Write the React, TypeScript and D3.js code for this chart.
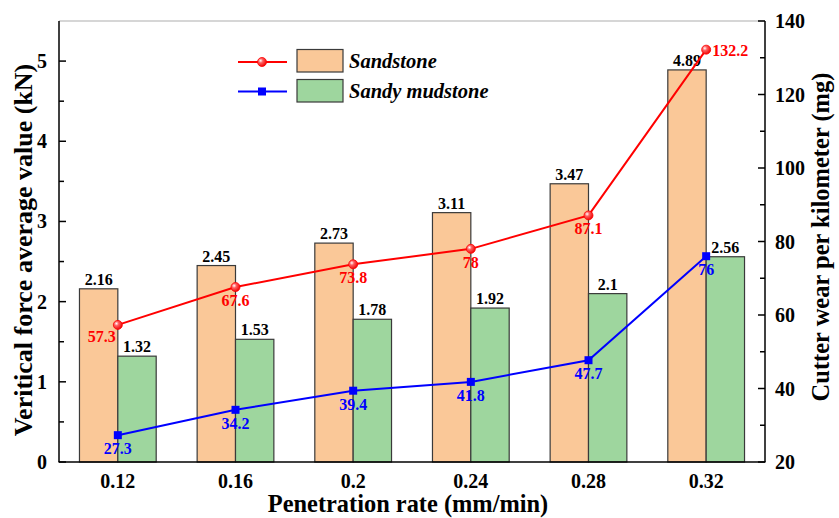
import React from "react";
import * as d3 from "d3";

// Penetration rates (mm/min)
const rates = ["0.12", "0.16", "0.2", "0.24", "0.28", "0.32"];
// Vertical force average value (kN)
const sandstoneForce = [2.16, 2.45, 2.73, 3.11, 3.47, 4.89];
const mudstoneForce = [1.32, 1.53, 1.78, 1.92, 2.1, 2.56];
// Cutter wear per kilometer (mg)
const sandstoneWear = [57.3, 67.6, 73.8, 78, 87.1, 132.2];
const mudstoneWear = [27.3, 34.2, 39.4, 41.8, 47.7, 76];

const leftTicks = [0, 1, 2, 3, 4, 5];
const rightTicks = [20, 40, 60, 80, 100, 120, 140];

const W = 839;
const H = 518;
const M = { left: 59, right: 765, top: 21, bottom: 462 };
const FONT = "Liberation Serif, Times New Roman, Times, DejaVu Serif, serif";

const ORANGE = "#FAC898";
const GREEN = "#9ED69E";
const RED = "#FF0000";
const BLUE = "#0000FF";

export default function App() {
  const x = d3.scaleBand<string>().domain(rates).range([M.left, M.right]).paddingInner(0).paddingOuter(0);
  const yL = d3.scaleLinear().domain([0, 5.5]).range([M.bottom, M.top]);
  const yR = d3.scaleLinear().domain([20, 140]).range([M.bottom, M.top]);
  const bw = x.bandwidth() * 0.326;
  const cx = (r: string) => (x(r) as number) + x.bandwidth() / 2;

  const line = d3
    .line<number>()
    .x((_, i) => cx(rates[i]))
    .y((d) => yR(d));

  const leftMinor = d3.range(0.5, 5.5, 1);
  const rightMinor = d3.range(30, 140, 20);

  return (
    <svg
      width={W}
      height={H}
      style={{ position: "absolute", left: 0, top: 0, background: "#fff", fontFamily: FONT, fontWeight: 700 }}
    >
      <defs>
        <radialGradient id="ball" cx="0.35" cy="0.35" r="0.7">
          <stop offset="0" stopColor="#ffffff" />
          <stop offset="0.35" stopColor="#ff6060" />
          <stop offset="1" stopColor="#ee0000" />
        </radialGradient>
      </defs>

      {/* bars */}
      {rates.map((r, i) => (
        <g key={r}>
          <rect
            x={cx(r) - bw}
            y={yL(sandstoneForce[i])}
            width={bw}
            height={M.bottom - yL(sandstoneForce[i])}
            fill={ORANGE}
            stroke="#3a3a3a"
            strokeWidth={1.2}
          />
          <rect
            x={cx(r)}
            y={yL(mudstoneForce[i])}
            width={bw}
            height={M.bottom - yL(mudstoneForce[i])}
            fill={GREEN}
            stroke="#3a3a3a"
            strokeWidth={1.2}
          />
          <text x={cx(r) - bw / 2} y={yL(sandstoneForce[i]) - 4} textAnchor="middle" fontSize={16}>
            {sandstoneForce[i]}
          </text>
          <text x={cx(r) + bw / 2} y={yL(mudstoneForce[i]) - 4} textAnchor="middle" fontSize={16}>
            {mudstoneForce[i]}
          </text>
        </g>
      ))}

      {/* frame */}
      <line x1={M.left} x2={M.right} y1={M.top} y2={M.top} stroke="#c8c8c8" strokeWidth={1.5} />
      <line x1={M.left} x2={M.left} y1={M.top} y2={M.bottom} stroke="#000" strokeWidth={1.5} />
      <line x1={M.right} x2={M.right} y1={M.top} y2={M.bottom} stroke="#000" strokeWidth={1.5} />
      <line x1={M.left - 0.5} x2={M.right + 0.5} y1={M.bottom} y2={M.bottom} stroke="#000" strokeWidth={1.5} />

      {/* left axis */}
      {leftTicks.map((t) => (
        <g key={t}>
          <line x1={M.left} x2={M.left + 7} y1={yL(t)} y2={yL(t)} stroke="#000" strokeWidth={1.5} />
          <text x={M.left - 12} y={yL(t) + 7} textAnchor="end" fontSize={20}>
            {t}
          </text>
        </g>
      ))}
      {leftMinor.map((t) => (
        <line key={t} x1={M.left} x2={M.left + 5} y1={yL(t)} y2={yL(t)} stroke="#000" strokeWidth={1.5} />
      ))}

      {/* right axis */}
      {rightTicks.map((t) => (
        <g key={t}>
          <line x1={M.right - 7} x2={M.right} y1={yR(t)} y2={yR(t)} stroke="#000" strokeWidth={1.5} />
          <text x={M.right + 10} y={yR(t) + 7} textAnchor="start" fontSize={20}>
            {t}
          </text>
        </g>
      ))}
      {rightMinor.map((t) => (
        <line key={t} x1={M.right - 5} x2={M.right} y1={yR(t)} y2={yR(t)} stroke="#000" strokeWidth={1.5} />
      ))}

      {/* bottom tick labels */}
      {rates.map((r) => (
        <text key={r} x={cx(r)} y={M.bottom + 26} textAnchor="middle" fontSize={20}>
          {r}
        </text>
      ))}

      {/* axis titles */}
      <text x={408} y={512} textAnchor="middle" fontSize={24.4}>
        Penetration rate (mm/min)
      </text>
      <text transform={`translate(32, 250) rotate(-90)`} textAnchor="middle" fontSize={26}>
        Veritical force average value (kN)
      </text>
      <text transform={`translate(829, 237) rotate(-90)`} textAnchor="middle" fontSize={24.5}>
        Cutter wear per kilometer (mg)
      </text>

      {/* wear lines */}
      <path d={line(sandstoneWear) as string} fill="none" stroke={RED} strokeWidth={2} />
      <path d={line(mudstoneWear) as string} fill="none" stroke={BLUE} strokeWidth={2} />
      {sandstoneWear.map((v, i) => (
        <circle key={i} cx={cx(rates[i])} cy={yR(v)} r={4.5} fill="url(#ball)" stroke={RED} strokeWidth={0.8} />
      ))}
      {mudstoneWear.map((v, i) => (
        <rect key={i} x={cx(rates[i]) - 4} y={yR(v) - 4} width={8} height={8} fill={BLUE} />
      ))}

      {/* wear value labels */}
      {sandstoneWear.map((v, i) => {
        const px = cx(rates[i]);
        const py = yR(v);
        if (i === 0)
          return (
            <text key={i} x={px - 2} y={py + 17} textAnchor="end" fontSize={16} fill={RED}>
              {v}
            </text>
          );
        if (i === rates.length - 1)
          return (
            <text key={i} x={px + 6} y={py + 6} textAnchor="start" fontSize={16} fill={RED}>
              {v}
            </text>
          );
        return (
          <text key={i} x={px} y={py + 19} textAnchor="middle" fontSize={16} fill={RED}>
            {v}
          </text>
        );
      })}
      {mudstoneWear.map((v, i) => (
        <text key={i} x={cx(rates[i])} y={yR(v) + 19} textAnchor="middle" fontSize={16} fill={BLUE}>
          {v}
        </text>
      ))}

      {/* legend */}
      <g fontStyle="italic" fontSize={20.5}>
        <line x1={238} x2={287} y1={62} y2={62} stroke={RED} strokeWidth={2} />
        <circle cx={262} cy={62} r={4.5} fill="url(#ball)" stroke={RED} strokeWidth={0.8} />
        <rect x={297} y={49.5} width={46} height={22.5} fill={ORANGE} stroke="#3a3a3a" strokeWidth={1.2} />
        <text x={349} y={68}>Sandstone</text>

        <line x1={238} x2={287} y1={91.5} y2={91.5} stroke={BLUE} strokeWidth={2} />
        <rect x={258} y={87.5} width={8} height={8} fill={BLUE} />
        <rect x={297} y={79.5} width={46} height={22.5} fill={GREEN} stroke="#3a3a3a" strokeWidth={1.2} />
        <text x={349} y={98}>Sandy mudstone</text>
      </g>
    </svg>
  );
}
